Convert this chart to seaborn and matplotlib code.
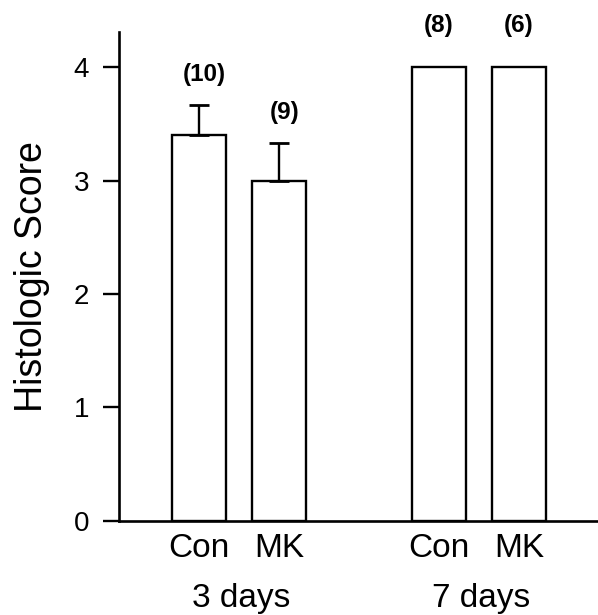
import matplotlib
matplotlib.use("Agg")
import matplotlib.pyplot as plt
import matplotlib.transforms as mtransforms
import numpy as np
import pandas as pd
import seaborn as sns

# ---- data ----
treatments = ["Con", "MK", "Con", "MK"]
time_groups = ["3 days", "3 days", "7 days", "7 days"]
scores = [3.4, 3.0, 4.0, 4.0]
sem = [0.27, 0.33, 0.0, 0.0]
n_labels = ["(10)", "(9)", "(8)", "(6)"]
group_names = ["3 days", "7 days"]
y_ticks = [0, 1, 2, 3, 4]

sns.set_style("ticks")
plt.rcParams["font.family"] = ["Liberation Sans", "DejaVu Sans"]
plt.rcParams.update({"text.color": "black", "axes.labelcolor": "black",
                     "xtick.color": "black", "ytick.color": "black",
                     "axes.edgecolor": "black"})

# x positions: two bars per group, one empty slot between groups
gidx = [group_names.index(g) for g in time_groups]
within = []
seen = {}
for g in time_groups:
    within.append(seen.get(g, 0))
    seen[g] = seen.get(g, 0) + 1
xpos = [gi * 3 + wi for gi, wi in zip(gidx, within)]

df = pd.DataFrame({"x": xpos, "score": scores, "sem": sem,
                   "treat": treatments, "group": time_groups})

fig = plt.figure(figsize=(5.98, 6.15), dpi=100)
ax = fig.add_axes([0.199, 0.153, 0.801, 0.795])

sns.barplot(data=df, x="x", y="score", native_scale=True, width=0.667,
            color="white", edgecolor="black", linewidth=1.7,
            errorbar=None, ax=ax, zorder=2)

# upward-only error bars
has_err = df["sem"] > 0
ax.errorbar(df.loc[has_err, "x"], df.loc[has_err, "score"],
            yerr=[np.zeros(has_err.sum()), df.loc[has_err, "sem"]],
            fmt="none", ecolor="black", elinewidth=1.7, capsize=7.5,
            capthick=2.0, zorder=3)

# n labels
offsets = [22 if s > 0 else 30 for s in sem]
for x, y, e, lab, off in zip(xpos, scores, sem, n_labels, offsets):
    ax.annotate(lab, xy=(x, y + e), xytext=(4 if e > 0 else 0, off),
                textcoords="offset points",
                ha="center", va="center", fontsize=17.5, fontweight="bold")

ax.set_xlim(-1.0, 4.99)
ax.set_ylim(0, 4.31)
ax.set_yticks(y_ticks)
ax.set_yticklabels([str(t) for t in y_ticks], fontsize=20)
ax.set_xticks(xpos)
ax.set_xticklabels(treatments, fontsize=24)
ax.tick_params(axis="y", length=11.5, width=1.7, pad=10, direction="out")
ax.tick_params(axis="x", length=0, pad=9)
ax.set_xlabel("")
ax.set_ylabel("Histologic Score", fontsize=27, labelpad=17)

for s in ["top", "right"]:
    ax.spines[s].set_visible(False)
ax.spines["left"].set_linewidth(1.9)
ax.spines["bottom"].set_linewidth(1.9)

# group labels
trans = mtransforms.blended_transform_factory(ax.transData, ax.transAxes)
for gi, g in enumerate(group_names):
    xs = [x for x, gg in zip(xpos, time_groups) if gg == g]
    ax.text(np.mean(xs) + 0.03, -0.158, g, transform=trans, ha="center",
            va="center", fontsize=24)

fig.savefig("out.png", dpi=100)
